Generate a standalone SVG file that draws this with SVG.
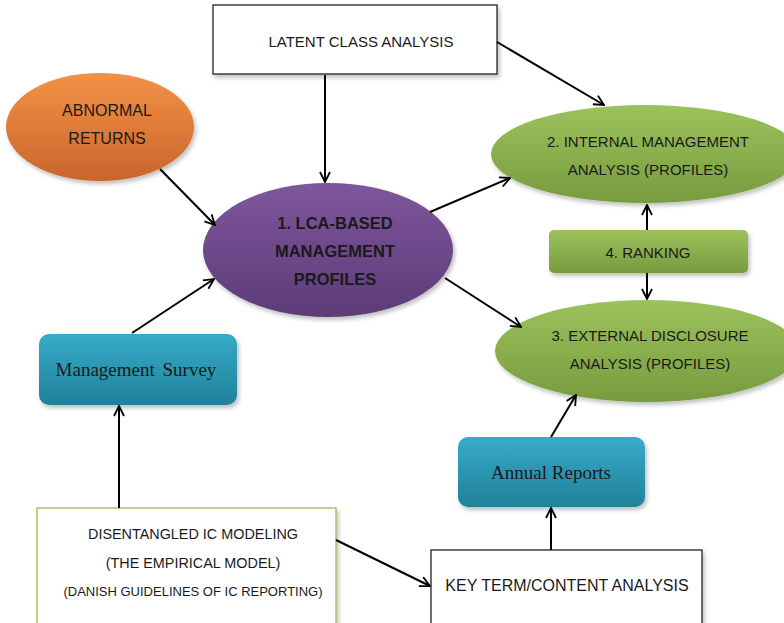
<svg xmlns="http://www.w3.org/2000/svg" width="784" height="623" viewBox="0 0 784 623">
<defs>
<style>
.t{font-family:"Liberation Sans",Arial,sans-serif;font-size:15px;fill:#1a1a1a;text-anchor:middle}
.b{font-weight:bold;font-size:16.5px}
.s{font-family:"Liberation Serif","Times New Roman",serif;font-size:19px;fill:#1a1a1a;text-anchor:middle}
.c{stroke:#000;stroke-width:2;fill:none;marker-end:url(#ah)}
</style>
<linearGradient id="gO" x1="0" y1="0" x2="0" y2="1"><stop offset="0" stop-color="#f39245"/><stop offset="1" stop-color="#c9652c"/></linearGradient>
<linearGradient id="gP" x1="0" y1="0" x2="0" y2="1"><stop offset="0" stop-color="#7e569c"/><stop offset="1" stop-color="#5c3c78"/></linearGradient>
<linearGradient id="gG" x1="0" y1="0" x2="0" y2="1"><stop offset="0" stop-color="#9cc25c"/><stop offset="1" stop-color="#779b3e"/></linearGradient>
<linearGradient id="gT" x1="0" y1="0" x2="0" y2="1"><stop offset="0" stop-color="#36abc8"/><stop offset="1" stop-color="#21819a"/></linearGradient>
<filter id="sh" x="-10%" y="-10%" width="125%" height="130%"><feDropShadow dx="2" dy="3" stdDeviation="2" flood-color="#000" flood-opacity="0.25"/></filter>
<marker id="ah" viewBox="0 0 12 12" refX="11" refY="6" markerWidth="12" markerHeight="12" markerUnits="userSpaceOnUse" orient="auto"><path d="M1,1 L11,6 L1,11" fill="none" stroke="#000" stroke-width="1.8"/></marker>
</defs>
<rect width="784" height="623" fill="#fff"/>
<g id="latent">
<rect x="213" y="5" width="284" height="69" fill="#fff" stroke="#222" stroke-width="1.3" filter="url(#sh)"/>
<text class="t" x="361" y="47">LATENT CLASS ANALYSIS</text>
</g>
<g id="abnormal">
<ellipse cx="100" cy="127" rx="94" ry="54" fill="url(#gO)" filter="url(#sh)"/>
<text class="t" x="107" y="116" style="font-size:16px">ABNORMAL</text>
<text class="t" x="107" y="144" style="font-size:16px">RETURNS</text>
</g>
<g id="lca">
<ellipse cx="328" cy="250" rx="125" ry="67" fill="url(#gP)" filter="url(#sh)"/>
<text class="t b" x="335" y="229">1. LCA-BASED</text>
<text class="t b" x="335" y="257">MANAGEMENT</text>
<text class="t b" x="335" y="285">PROFILES</text>
</g>
<g id="internal">
<ellipse cx="645" cy="154" rx="154" ry="49" fill="url(#gG)" filter="url(#sh)"/>
<text class="t" x="648" y="147">2. INTERNAL MANAGEMENT</text>
<text class="t" x="648" y="175">ANALYSIS (PROFILES)</text>
</g>
<g id="ranking">
<rect x="549" y="230" width="199" height="43" rx="5" fill="url(#gG)" filter="url(#sh)"/>
<text class="t" x="648" y="258">4. RANKING</text>
</g>
<g id="external">
<ellipse cx="647" cy="351" rx="152" ry="51" fill="url(#gG)" filter="url(#sh)"/>
<text class="t" x="650" y="341">3. EXTERNAL DISCLOSURE</text>
<text class="t" x="650" y="369">ANALYSIS (PROFILES)</text>
</g>
<g id="survey">
<rect x="39" y="334" width="198" height="71" rx="10" fill="url(#gT)" filter="url(#sh)"/>
<text class="s" x="136" y="376" style="word-spacing:3px">Management  Survey</text>
</g>
<g id="annual">
<rect x="458" y="437" width="187" height="70" rx="10" fill="url(#gT)" filter="url(#sh)"/>
<text class="s" x="551" y="479">Annual Reports</text>
</g>
<g id="disentangled">
<rect x="37" y="508" width="299" height="120" fill="#fff" stroke="#9bbb59" stroke-width="1.3" filter="url(#sh)"/>
<text class="t" x="193" y="539" style="font-size:14.4px">DISENTANGLED IC MODELING</text>
<text class="t" x="193" y="568" style="font-size:14.4px">(THE EMPIRICAL MODEL)</text>
<text class="t" x="193" y="596" style="font-size:13px">(DANISH GUIDELINES OF IC REPORTING)</text>
</g>
<g id="keyterm">
<rect x="431" y="550" width="271" height="80" fill="#fff" stroke="#222" stroke-width="1.3" filter="url(#sh)"/>
<text class="t" x="567" y="591" style="font-size:16px">KEY TERM/CONTENT ANALYSIS</text>
</g>
<g id="connectors">
<line class="c" x1="325" y1="75" x2="325" y2="182"/>
<line class="c" x1="160" y1="169" x2="215" y2="225"/>
<line class="c" x1="497" y1="42" x2="604" y2="105"/>
<line class="c" x1="430" y1="212" x2="510" y2="178"/>
<line class="c" x1="647" y1="230" x2="647" y2="205"/>
<line class="c" x1="647" y1="273" x2="647" y2="299"/>
<line class="c" x1="445" y1="278" x2="521" y2="327"/>
<line class="c" x1="132" y1="333" x2="214" y2="279"/>
<line class="c" x1="119" y1="508" x2="119" y2="406"/>
<line class="c" x1="336" y1="540" x2="430" y2="586"/>
<line class="c" x1="551" y1="550" x2="551" y2="508"/>
<line class="c" x1="551" y1="437" x2="576" y2="395"/>
</g>
</svg>
